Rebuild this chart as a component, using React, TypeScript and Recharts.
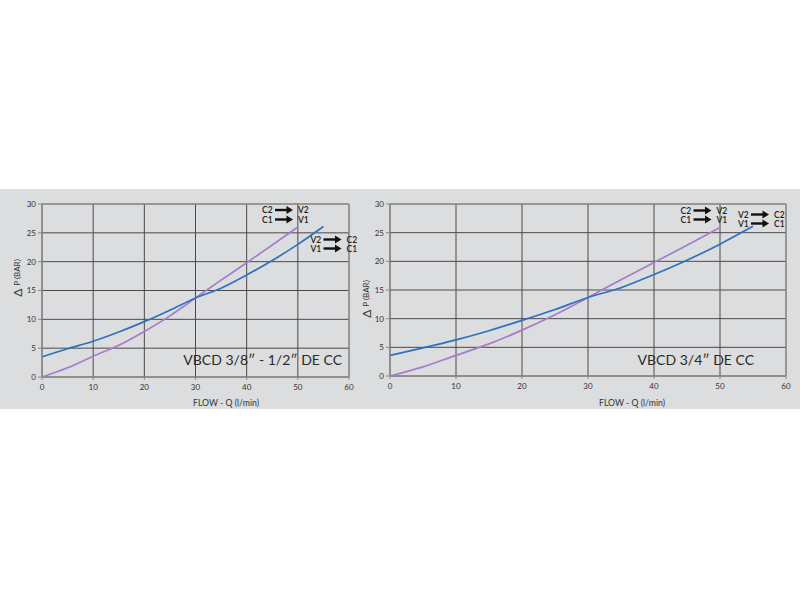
import React from "react";
import { LineChart, Line, XAxis, YAxis, CartesianGrid, ReferenceLine } from "recharts";

const flow = [0, 5, 10, 15, 20, 25, 30, 35, 40, 45, 50, 55];
const leftBlue = [3.5, 4.9, 6.2, 7.8, 9.6, 11.6, 13.7, 15.4, 17.7, 20.2, 23.0, 26.1];
const leftPurple = [0, 1.6, 3.6, 5.5, 7.9, 10.6, 13.7, 16.8, 19.8, 22.9, 26.0, null];
const rightBlue = [3.6, 4.9, 6.3, 7.9, 9.7, 11.6, 13.7, 15.4, 17.7, 20.2, 23.0, 26.1];
const rightPurple = [0, 1.6, 3.6, 5.6, 8.0, 10.7, 13.7, 16.8, 19.8, 22.8, 25.9, null];
const xTicks = [0, 10, 20, 30, 40, 50, 60];
const yTicks = [0, 5, 10, 15, 20, 25, 30];
const titles = ["VBCD 3/8″ - 1/2″ DE CC", "VBCD 3/4″ DE CC"];

const build = (b: (number | null)[], p: (number | null)[]) =>
  flow.map((q, i) => ({ q, blue: b[i], purple: p[i] }));

const leftData = build(leftBlue, leftPurple);
const rightData = build(rightBlue, rightPurple);

const FONT = "Lato, 'DejaVu Sans', sans-serif";
const BLUE = "#2f70c0";
const PURPLE = "#a77ccb";
const tickStyle = { fontSize: 8, fill: "#333", fontFamily: FONT };

function Chart({ data, width, height, yWidth, xHeight, right }: any) {
  return (
    <LineChart
      width={width}
      height={height}
      data={data}
      margin={{ top: 15, right, bottom: 0, left: 0 }}
    >
      <CartesianGrid stroke="#4a4a4a" strokeWidth={1} />
      <XAxis
        dataKey="q"
        type="number"
        domain={[0, 60]}
        ticks={xTicks}
        height={xHeight}
        tickSize={3}
        tickMargin={4}
        stroke="#8a8a8a"
        tick={tickStyle}
        interval={0}
      />
      <YAxis
        type="number"
        domain={[0, 30]}
        ticks={yTicks}
        width={yWidth}
        tickSize={4}
        tickMargin={2}
        stroke="#8a8a8a"
        tick={tickStyle}
        interval={0}
      />
      <ReferenceLine y={30} stroke="#9a9a9a" strokeWidth={1} />
      <ReferenceLine x={60} stroke="#9a9a9a" strokeWidth={1} />
      <Line
        type="monotone"
        dataKey="purple"
        stroke={PURPLE}
        strokeWidth={1.7}
        dot={false}
        isAnimationActive={false}
        connectNulls={false}
      />
      <Line
        type="monotone"
        dataKey="blue"
        stroke={BLUE}
        strokeWidth={1.7}
        dot={false}
        isAnimationActive={false}
      />
    </LineChart>
  );
}

function Arrow({ x1, x2, y }: { x1: number; x2: number; y: number }) {
  return (
    <g>
      <line x1={x1} y1={y} x2={x2 - 5} y2={y} stroke="#111" strokeWidth={2.4} />
      <polygon points={`${x2 - 6.5},${y - 4} ${x2},${y} ${x2 - 6.5},${y + 4}`} fill="#111" />
    </g>
  );
}

function Flow({ x, y, a, b }: { x: number; y: number; a: string; b: string }) {
  return (
    <g>
      <text x={x} y={y + 3} fontSize={8.5} fontFamily={FONT} fontWeight={600} fill="#222">{a}</text>
      <Arrow x1={x + 13} x2={x + 31} y={y} />
      <text x={x + 36} y={y + 3} fontSize={8.5} fontFamily={FONT} fontWeight={600} fill="#222">{b}</text>
    </g>
  );
}

function YLabel({ x, y }: { x: number; y: number }) {
  return (
    <text
      x={x}
      y={y}
      transform={`rotate(-90 ${x} ${y})`}
      textAnchor="middle"
      dominantBaseline="central"
      fontFamily={FONT}
      fill="#333"
    >
      <tspan fontSize={12}>Δ</tspan>
      <tspan fontSize={8} dx={3}>P (BAR)</tspan>
    </text>
  );
}

export default function App() {
  return (
    <div style={{ position: "absolute", left: 0, top: 0, width: 800, height: 600, background: "#fff" }}>
      <div style={{ position: "absolute", left: 0, top: 189, width: 800, height: 220, background: "#dcdddf" }} />
      <div style={{ position: "absolute", left: 0, top: 189 }}>
        <Chart data={leftData} width={360} height={220} yWidth={42} xHeight={32} right={11} />
      </div>
      <div style={{ position: "absolute", left: 350, top: 189 }}>
        <Chart data={rightData} width={450} height={220} yWidth={40} xHeight={33} right={14} />
      </div>
      <svg
        width={800}
        height={600}
        style={{ position: "absolute", left: 0, top: 0, pointerEvents: "none" }}
      >
        <YLabel x={17} y={278} />
        <YLabel x={366} y={299} />
        <text x={226} y={406} textAnchor="middle" fontSize={8.7} fontFamily={FONT} fill="#333">FLOW - Q (l/min)</text>
        <text x={632} y={406} textAnchor="middle" fontSize={8.7} fontFamily={FONT} fill="#333">FLOW - Q (l/min)</text>
        <text x={342} y={365} textAnchor="end" fontSize={14} fontFamily={FONT} fill="#2a2a2a">{titles[0]}</text>
        <text x={754} y={365} textAnchor="end" fontSize={14} fontFamily={FONT} fill="#2a2a2a">{titles[1]}</text>
        <Flow x={262} y={210} a="C2" b="V2" />
        <Flow x={262} y={219.5} a="C1" b="V1" />
        <Flow x={310.5} y={239.5} a="V2" b="C2" />
        <Flow x={310.5} y={248.5} a="V1" b="C1" />
        <Flow x={680.5} y={210.5} a="C2" b="V2" />
        <Flow x={680.5} y={219.5} a="C1" b="V1" />
        <Flow x={738} y={214.5} a="V2" b="C2" />
        <Flow x={738} y={223.5} a="V1" b="C1" />
      </svg>
    </div>
  );
}
